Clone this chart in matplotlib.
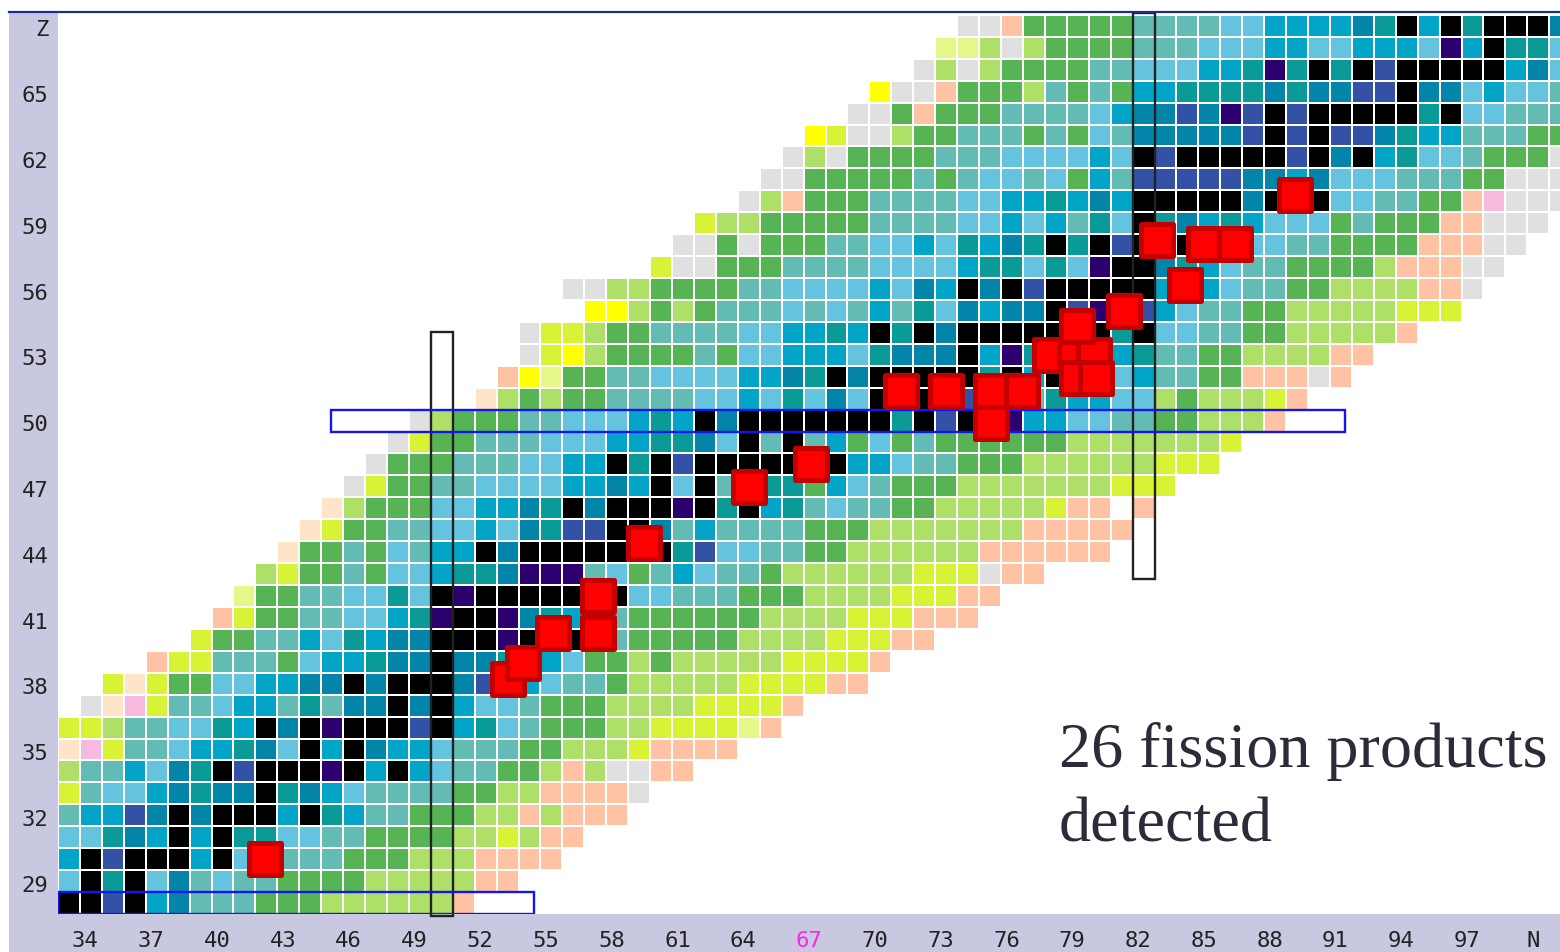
import numpy as np
import matplotlib
matplotlib.use('Agg')
import matplotlib.pyplot as plt
from matplotlib.colors import ListedColormap
from matplotlib.lines import Line2D
from matplotlib.markers import MarkerStyle
from matplotlib.patches import Rectangle

# half-life class of each letter
codes = 'gpckYylLGTSBDENPK'
class_colors = ['#E0E0E0', '#FFC2A3', '#FFE5C7', '#F5BADD', '#FFFF00', '#D8F236',
                '#E4F788', '#AEDF66', '#56B454', '#63BCB3', '#64C4DF', '#02A5C7',
                '#0285A8', '#0A9B99', '#3351A5', '#2C006E', '#000000']

# first neutron number in each row, Z = 28 upwards
z_start = 28
first_n = [33, 33, 33, 33, 33, 33, 33, 33, 33, 34, 35, 37, 39, 40, 41, 42, 43, 44, 45, 46, 47,
           48, 49, 52, 53, 54, 54, 57, 56, 60, 61, 62, 64, 65, 66, 67, 69, 70, 72, 73, 74]
nuclides = [
    'KKNKBDTTTGGGLLLLLLp',
    'SKEKSDTSTTGGGGLLLLLpp',
    'BKNKKKBKSSTTTGGGLLLpppp',
    'SSEDBKBKEESSTTGGGGLLyLpp',
    'TBBNDKDKKKBKEBTTGGGLLpLppp',
    'yTSSBDEDDKEDBSTTTTGGLLppppg',
    'LTTBSDEKNKKKPKBKBSTTGGLpLggpp',
    'ckyTTSBBEDSKBKDBBSTTTGGLLLypppp',
    'yyLTTSSEBKDKPKKKNKBESTGGGLLyyyylp',
    'gckyTTSBBTETDDKDKBSSTGGGLLLLyyyyp',
    'ycyGGSSBBDDKDKKKDNBBSTTGLLLLLyyyypp',
    'pyyTTTGSBBEDDKDDEBBSGGLGLLLLLyyyyp',
    'yGGTTBSEBDDKKKPKKKTTGGGGGLLLLyyypp',
    'pyGGTTSSBEPKKPDEBTTGGGGGGLLLLyyyppp',
    'lGGTTSSESKPKKKKKKKSSTTTGGGLLLLyyypp',
    'LyGGTGSSBEEDPPPTSGTBSTTGLLLLLLyyygpp',
    'cGGTGSTBBKDKKKKKKKENSSTTGGLLLLLLpppppp',
    'cyGGTTSSBSDENNKKDTBTTTTGGGLLLLLLLppppp',
    'cLGGGSSBBDEKDKKKPKEKBETSTTGGLLLLLypp.p',
    'gyGGTTSSSSBBDBKSKTTEEGBSTGGGLLLLLLLyyy',
    'gGGGTTTSSBBKEKNKKKKKKKBBSTTGGGLLLLLLyyy',
    'gyGGTTTSSSBBEEDSKTKTBGSGTGGGGGGLLLLLLLy',
    'gLGGGTTSSSBEBKDKKKKKKKEKNKKPBBSSTTGGLLLp',
    'cLGLGGTTTTSSBSESDSKKKKNNNTEBBSSLGLLLyp',
    'pYlGGTTSSSSBBDEKDKKKKKEKBKKKSBTTGGpppgp',
    'gyYLGGGGTGSSBBBSEDDDKBPEKKKBETTGGLLLLpp',
    'gyyLGGTTTTSSBBEBKEKDKKKKKKKEKSSTTGGLLLLLp',
    'YYLGLGTTTSTSTBTESDBDDKNPKNBSTTGGLLLLLyyy',
    'ggLLGGGGTTSSSSBSDBKDKNKKKKKBBBSTTGGLLLLppg',
    'yggGGGTTTTSSSSBEESESPKKDEBSTTGGGGLpppgg',
    'ggGgGGGTTSSBSEBDEKEKNKKKBBSSTTGGGGpppgg',
    'yLLGGGGGTTTTSSBSBTESKEDBEBSSSGTGGGppggg',
    'gLpGGGTTTTSSBBEBDBKKKKKDKKKSSTTGGpkggg',
    'ggGGGGGTGTSSTSGBTNNNNNDDBDSSSTTTGGggg',
    'gLgGGGGTTTSSSSBSKNKKKKKNKDKBESSTGGGg',
    'YyggLGGTTTGTGSTDDDDDNKNKNNDEBBTTTGG',
    'ggGpGGGTTTTSBDDNDPNKNKKKKKEKSSTTT',
    'YggpGGGLTGTGBBEEEEDEDDNNKDDSBSST',
    'gLgLGGGGTTSSSBBEPEKEKNKKKKKBDS',
    'llLgLGGGGTTTSSSBBSSBBBSPBKEES',
    'ggpGGGGGTTTTSSBBBBDEKBKEKKKD',
]

# tick labels
x_ticks = [34, 37, 40, 43, 46, 49, 52, 55, 58, 61, 64, 67, 70, 73, 76, 79, 82, 85, 88, 91, 94, 97, 100]
x_labels = ['34', '37', '40', '43', '46', '49', '52', '55', '58', '61', '64', '67',
            '70', '73', '76', '79', '82', '85', '88', '91', '94', '97', 'N']
y_ticks = [29, 32, 35, 38, 41, 44, 47, 50, 53, 56, 59, 62, 65, 68]
y_labels = ['29', '32', '35', '38', '41', '44', '47', '50', '53', '56', '59', '62', '65', 'Z']

# detected fission products
fp_n = [41.94, 53.02, 53.7, 55.07, 57.12, 57.12, 59.22, 64.01, 66.84, 70.94, 72.99, 75.04, 76.46,
        75.04, 77.73, 78.87, 79.74, 78.97, 78.97, 79.83, 81.11, 82.61, 84.76, 86.17, 83.89, 88.91]
fp_z = [30.0, 38.21, 38.94, 40.31, 40.31, 42.0, 44.42, 46.97, 48.02, 51.35, 51.35, 51.35, 51.35,
        49.89, 52.99, 52.99, 52.99, 54.31, 51.94, 51.94, 54.99, 58.23, 58.05, 58.05, 56.18, 60.28]

W, H = 1560, 952
cell = 21.93
n_edges = np.arange(32.5, 102.0, 1)
z_edges = np.arange(z_start - 0.5, z_start + len(nuclides), 1)

fig = plt.figure(figsize=(W / 100, H / 100), dpi=100, facecolor='white')
ax = fig.add_axes([58 / W, (H - 914) / H, (W - 58) / W, 902 / H])
ax.set_xlim(32.5, 32.5 + (W - 58) / cell)
ax.set_ylim(27.5, 27.5 + 902 / cell)

# lavender strips behind the tick labels
fig.add_artist(Rectangle((9 / W, 0), 49 / W, (H - 12) / H, transform=fig.transFigure,
                         color='#C8C8E0', lw=0, zorder=-1))
fig.add_artist(Rectangle((9 / W, 0), (W - 9) / W, (H - 914) / H, transform=fig.transFigure,
                         color='#C8C8E0', lw=0, zorder=-1))
fig.add_artist(Line2D([9 / W, 1], [(H - 12) / H] * 2, transform=fig.transFigure,
                      color='#1C2E96', lw=1.6, zorder=5))

grid = np.full((len(nuclides), len(n_edges) - 1), -1)
for row, (start, text) in enumerate(zip(first_n, nuclides)):
    for i, ch in enumerate(text):
        if ch != '.':
            grid[row, start - 33 + i] = codes.index(ch)

ax.pcolormesh(n_edges, z_edges, np.ma.masked_less(grid, 0), cmap=ListedColormap(class_colors),
              vmin=-0.5, vmax=len(codes) - 0.5, edgecolors='white', linewidth=1.35)

# closed shells
ax.add_patch(Rectangle((49.5, 27.41), 1, 26.63, fill=False, ec='#222222', lw=1.7, zorder=3, clip_on=False))
ax.add_patch(Rectangle((81.5, 42.78), 1, 25.8, fill=False, ec='#222222', lw=1.7, zorder=3, clip_on=False))
ax.add_patch(Rectangle((44.95, 49.5), 46.25, 1, fill=False, ec='#1414F0', lw=1.7, zorder=4))
ax.add_patch(Rectangle((32.5, 27.5), 21.7, 1, fill=False, ec='#1414F0', lw=1.7, zorder=4))

ax.scatter(fp_n, fp_z, s=500, marker=MarkerStyle('s', joinstyle='round'), c='#FF0000',
           edgecolors='#C40000', linewidths=3.6, zorder=6)

ax.set_xticks(np.array(x_ticks) - 0.25, x_labels, family='DejaVu Sans Mono', fontsize=16, color='#222222')
ax.set_yticks(np.array(y_ticks) - 0.12, y_labels, family='DejaVu Sans Mono', fontsize=16, color='#222222')
ax.get_xticklabels()[x_labels.index('67')].set_color('#FF22EE')
ax.tick_params(length=0, pad=12.5, axis='x')
ax.tick_params(length=0, pad=7, axis='y')
for spine in ax.spines.values():
    spine.set_visible(False)

fig.text(1059 / W, (H - 842) / H, '26 fission products\ndetected', family='Liberation Serif',
         fontsize=46.2, color='#2B2B3A', linespacing=1.385, ha='left', va='baseline')

fig.savefig('out.png', dpi=100)
